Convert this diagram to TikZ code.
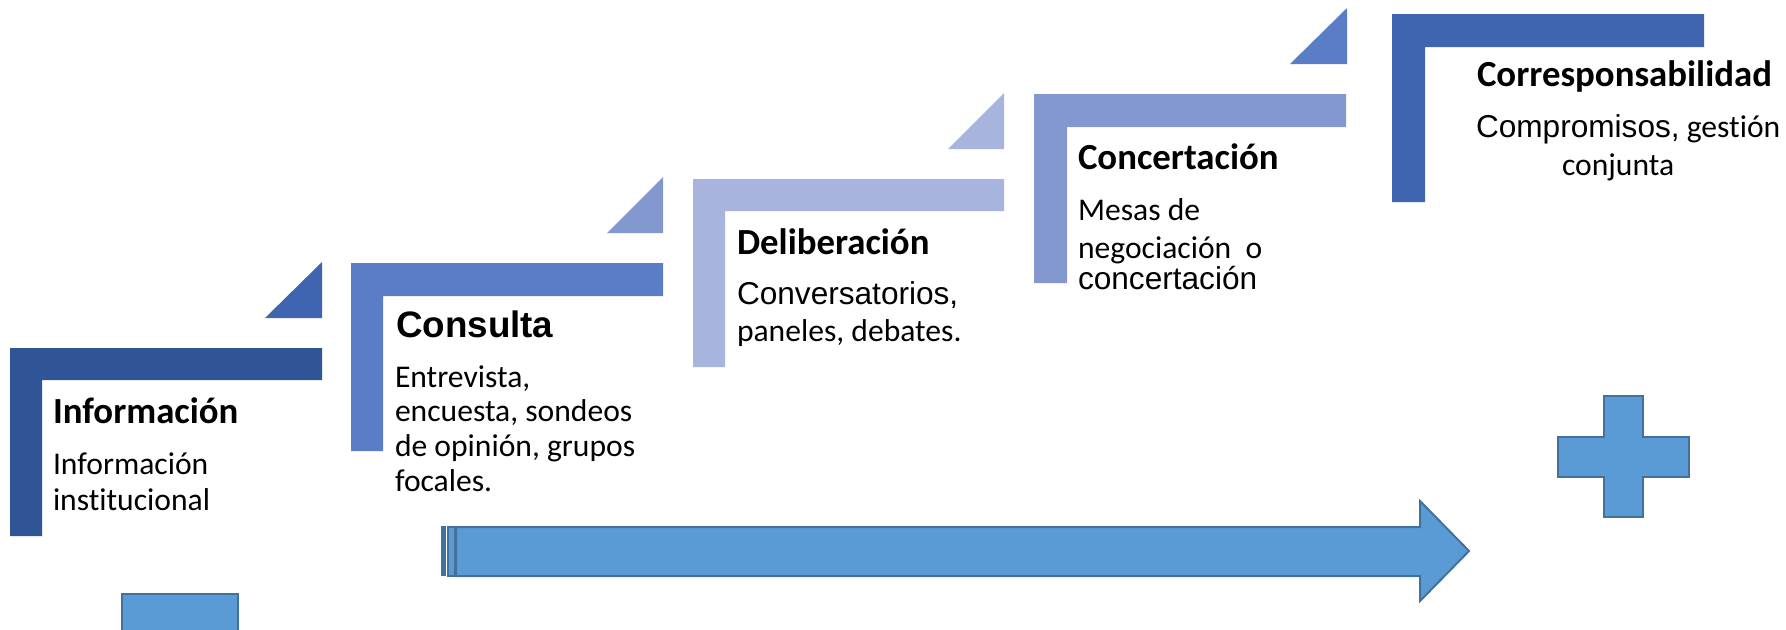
\documentclass[tikz,border=0pt]{standalone}
\usepackage{fontspec}
\newfontfamily\calibri[Ligatures=NoCommon]{Carlito}
\newfontfamily\arial{Liberation Sans}

\definecolor{stepinfo}{HTML}{2F5597}
\definecolor{stepcons}{HTML}{5A7DC5}
\definecolor{stepdeli}{HTML}{A7B5DE}
\definecolor{stepconc}{HTML}{8498D0}
\definecolor{stepcorr}{HTML}{3F65B1}
\definecolor{signfill}{HTML}{5B9BD5}
\definecolor{signline}{HTML}{41719C}

\begin{document}
\begin{tikzpicture}[x=0.5pt,y=-0.5pt]
        \tikzstyle{every node}=[inner sep=0pt, outer sep=0pt, anchor=base west]
        \tikzstyle{title}=[font=\calibri\bfseries\fontsize{18.4}{22}\selectfont]
        \tikzstyle{titlearial}=[font=\arial\bfseries\fontsize{18.4}{22}\selectfont]
        \tikzstyle{body}=[font=\calibri\fontsize{15.8}{19}\selectfont]
        \tikzstyle{bodyarial}=[font=\arial\fontsize{15.8}{19}\selectfont]
        \tikzstyle{sign}=[fill=signfill, draw=signline, line width=1pt]

        \fill[white] (0,0) rectangle (1786,629);
        \useasboundingbox (0,0) rectangle (1786,629);

        % steps
        \fill[stepinfo] (10,348) -- (322,348) -- (322,380) -- (42,380) -- (42,536) -- (10,536) -- cycle;
        \fill[stepcons] (351,263) -- (663,263) -- (663,296) -- (383,296) -- (383,451) -- (351,451) -- cycle;
        \fill[stepdeli] (693,179) -- (1004,179) -- (1004,211) -- (725,211) -- (725,367) -- (693,367) -- cycle;
        \fill[stepconc] (1034,94) -- (1346,94) -- (1346,127) -- (1067,127) -- (1067,283) -- (1034,283) -- cycle;
        \fill[stepcorr] (1392,14) -- (1704,14) -- (1704,47) -- (1425,47) -- (1425,202) -- (1392,202) -- cycle;

        % corners between the steps
        \fill[stepcorr] (265,318) -- (322,262) -- (322,318) -- cycle;
        \fill[stepconc] (607,233) -- (663,177) -- (663,233) -- cycle;
        \fill[stepdeli] (948,149) -- (1004,93) -- (1004,149) -- cycle;
        \fill[stepcons] (1290,64) -- (1347,8) -- (1347,64) -- cycle;

        % texts
        \node (info-t) [title] at (53,423) {Información};
        \node (info-1) [body] at (53,474) {Información};
        \node (info-2) [body] at (53,510) {institucional};

        \node (cons-t) [titlearial] at (396,337) {Consulta};
        \node (cons-1) [body] at (395,387) {Entrevista,};
        \node (cons-2) [body] at (395,421) {encuesta, sondeos};
        \node (cons-3) [body] at (395,456) {de opinión, grupos};
        \node (cons-4) [body] at (395,491) {focales.};

        \node (deli-t) [title] at (737,254) {Deliberación};
        \node (deli-1) [bodyarial] at (737,304) {Conversatorios,};
        \node (deli-2) [body] at (737,341) {paneles, debates.};

        \node (conc-t) [title] at (1078,169) {Concertación};
        \node (conc-1) [body] at (1078,220) {Mesas de};
        \node (conc-2) [body] at (1078,258) {negociación\ \ o};
        \node (conc-3) [bodyarial] at (1078,289) {concertación};

        \node (corr-t) [title] at (1477,86) {Corresponsabilidad};
        \node (corr-1) [bodyarial] at (1476,137) {Compromisos,{\calibri{} gestión}};
        \node (corr-2) [body] at (1562,175) {conjunta};

        % arrow
        \fill[signline] (441,526) rectangle (446,576);
        \draw[sign] (448,527) rectangle (455,576);
        \draw[sign] (456,527) -- (1420,527) -- (1420,501) -- (1469,551) -- (1420,601)
            -- (1420,576) -- (456,576) -- cycle;

        % minus and plus
        \draw[sign] (122,594) rectangle (238,634);
        \draw[sign] (1604,396) -- (1643,396) -- (1643,437) -- (1689,437) -- (1689,477)
            -- (1643,477) -- (1643,517) -- (1604,517) -- (1604,477) -- (1558,477)
            -- (1558,437) -- (1604,437) -- cycle;
\end{tikzpicture}
\end{document}
